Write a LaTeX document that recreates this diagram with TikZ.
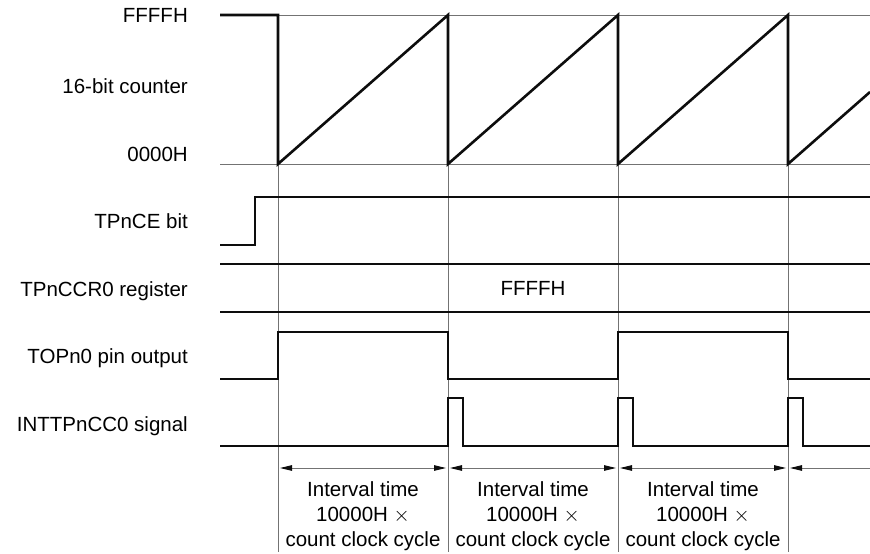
\documentclass[tikz,border=0pt]{standalone}
\usepackage{fontspec}
\setmainfont{Liberation Sans}
\usetikzlibrary{arrows.meta, positioning}
\definecolor{tGrey}{gray}{0.45}
\definecolor{tBlack}{gray}{0.05}

\begin{document}
\begin{tikzpicture}[x=1pt, y=-1pt, >={Triangle[length=12pt, width=5.5pt, color=tBlack]},
    sig/.style={tBlack, line width=2.6pt, line join=miter},
    gridline/.style={tGrey, line width=0.9pt},
    span/.style={tGrey, line width=0.9pt, shorten <=2pt, shorten >=2pt},
    lbl/.style={anchor=base east, inner sep=0pt, font=\fontsize{20.5}{25}\selectfont},
    txt/.style={anchor=base, inner sep=0pt, font=\fontsize{20.5}{25}\selectfont}]
  \useasboundingbox (0,0) rectangle (870,554);
  % signal names
  \node[lbl] (max)  at (188,22.5)  {FFFFH};
  \node[lbl] (cnt)  at (188,93.5)  {16-bit counter};
  \node[lbl] (zero) at (188,161.5) {0000H};
  \node[lbl] (ce)   at (188,228.5) {TPnCE bit};
  \node[lbl] (ccr)  at (188,296.5) {TPnCCR0 register};
  \node[lbl] (top)  at (188,363.5) {TOPn0 pin output};
  \node[lbl] (intp) at (188,431.5) {INTTPnCC0 signal};
  % grid
  \draw[gridline] (220,15) -- (870,15);
  \draw[gridline] (220,164) -- (870,164);
  \foreach \i/\x in {1/278, 2/448, 3/618, 4/788} {
    \draw[gridline] (\x,15) -- (\x,552);
    \coordinate (a\i) at (\x,468);
  }
  \coordinate (aEnd) at (870,468);
  % counter
  \draw[sig] (220,15) -- (278,15) -- (278,164) -- (448,15) -- (448,164) -- (618,15)
    -- (618,164) -- (788,15) -- (788,164) -- (870,92);
  % TPnCE
  \draw[sig] (220,245) -- (255,245) -- (255,197) -- (870,197);
  % TPnCCR0
  \draw[sig] (220,264) -- (870,264);
  \draw[sig] (220,312) -- (870,312);
  \node[txt] (ccrval) at (533,295.5) {FFFFH};
  % TOPn0
  \draw[sig] (220,379) -- (278,379) -- (278,332) -- (448,332) -- (448,379) -- (618,379)
    -- (618,332) -- (788,332) -- (788,379) -- (870,379);
  % INTTPnCC0
  \draw[sig] (220,446) -- (448,446) -- (448,398) -- (463,398) -- (463,446) -- (618,446)
    -- (618,398) -- (633,398) -- (633,446) -- (788,446) -- (788,398) -- (803,398)
    -- (803,446) -- (870,446);
  % intervals
  \draw[span, <->] (a1) -- (a2);
  \draw[span, <->] (a2) -- (a3);
  \draw[span, <->] (a3) -- (a4);
  \draw[span, <-, shorten >=0pt] (a4) -- (aEnd);
  \foreach \n/\x in {1/363, 2/533, 3/703} {
    \node[txt] (ivl\n) at (\x,496) {Interval time};
    \node[txt] (mul\n) at (\x,521) {10000H $\times$};
    \node[txt] (cyc\n) at (\x,546) {count clock cycle};
  }
\end{tikzpicture}
\end{document}
